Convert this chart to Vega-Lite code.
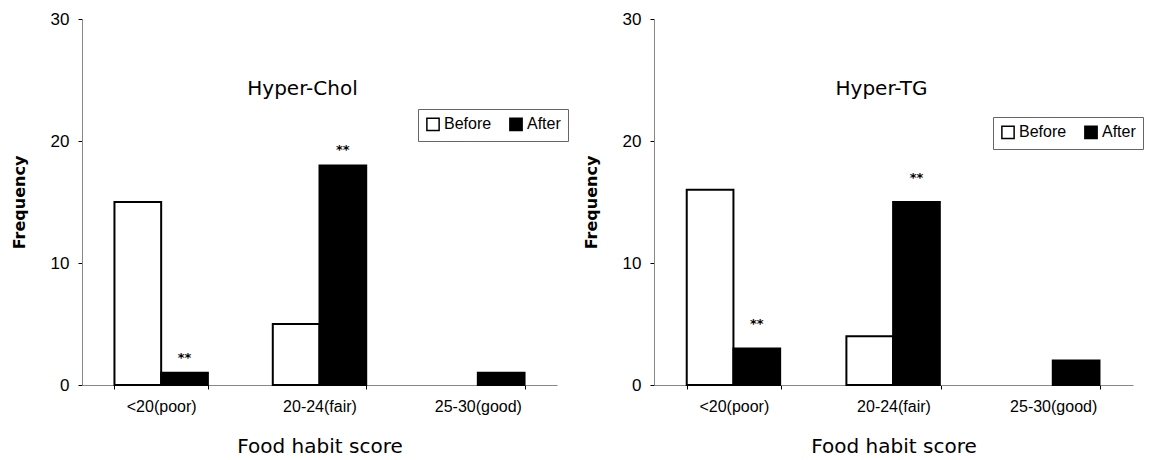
{
  "$schema": "https://vega.github.io/schema/vega-lite/v6.json",
  "padding": {"top": 10, "left": 11, "right": 0, "bottom": 0},
  "background": "white",
  "spacing": 14,
  "config": {
    "view": {"stroke": null},
    "font": "Liberation Sans",
    "axis": {
      "grid": false,
      "domainColor": "#888",
      "domainWidth": 1,
      "tickColor": "black",
      "tickWidth": 1,
      "labelColor": "black",
      "titleColor": "black",
      "labelFont": "Liberation Sans",
      "titleFont": "DejaVu Sans"
    },
    "axisX": {
      "labelAngle": 0,
      "labelFontSize": 16,
      "labelPadding": 9,
      "tickBand": "extent",
      "tickSize": 4,
      "titleFontSize": 20,
      "titleFontWeight": "normal",
      "titlePadding": 22
    },
    "axisY": {
      "labelFontSize": 17,
      "labelPadding": 9,
      "tickSize": 4,
      "titleFontSize": 16,
      "titleFontWeight": "bold",
      "titlePadding": 23
    },
    "legend": {
      "orient": "none",
      "direction": "horizontal",
      "title": null,
      "padding": 7,
      "strokeColor": "#666",
      "symbolType": "square",
      "symbolSize": 150,
      "symbolStrokeColor": "black",
      "symbolStrokeWidth": 1.5,
      "labelFont": "Liberation Sans",
      "labelFontSize": 16,
      "labelColor": "black",
      "columnPadding": 14,
      "labelOffset": 3
    }
  },
  "datasets": {
    "chol": [
      {"score": "<20(poor)", "period": "Before", "freq": 15, "sig": ""},
      {"score": "<20(poor)", "period": "After", "freq": 1, "sig": "**"},
      {"score": "20-24(fair)", "period": "Before", "freq": 5, "sig": ""},
      {"score": "20-24(fair)", "period": "After", "freq": 18, "sig": "**"},
      {"score": "25-30(good)", "period": "After", "freq": 1, "sig": ""}
    ],
    "tg": [
      {"score": "<20(poor)", "period": "Before", "freq": 16, "sig": ""},
      {"score": "<20(poor)", "period": "After", "freq": 3, "sig": "**"},
      {"score": "20-24(fair)", "period": "Before", "freq": 4, "sig": ""},
      {"score": "20-24(fair)", "period": "After", "freq": 15, "sig": "**"},
      {"score": "25-30(good)", "period": "After", "freq": 2, "sig": ""}
    ],
    "titles": [
      {"panel": "chol", "label": "Hyper-Chol"},
      {"panel": "tg", "label": "Hyper-TG"}
    ]
  },
  "resolve": {"scale": {"fill": "independent"}, "legend": {"fill": "independent"}},
  "hconcat": [
    {
      "width": 475,
      "height": 366,
      "layer": [
        {
          "data": {"name": "chol"},
          "mark": {"type": "bar", "stroke": "black", "strokeWidth": 2},
          "encoding": {
            "x": {"field": "score", "type": "nominal", "sort": ["<20(poor)", "20-24(fair)", "25-30(good)"],
                  "scale": {"paddingInner": 0.41, "paddingOuter": 0.205},
                  "axis": {"title": "Food habit score"}},
            "xOffset": {"field": "period", "type": "nominal", "sort": ["Before", "After"], "scale": {"paddingInner": 0, "paddingOuter": 0}},
            "y": {"field": "freq", "type": "quantitative", "scale": {"domain": [0, 30], "nice": false},
                  "axis": {"title": "Frequency", "values": [0, 10, 20, 30]}},
            "fill": {"field": "period", "type": "nominal",
                     "scale": {"domain": ["Before", "After"], "range": ["white", "black"]},
                     "legend": {"legendX": 336, "legendY": 90}}
          }
        },
        {
          "data": {"name": "chol"},
          "mark": {"type": "text", "baseline": "middle", "dy": -15, "fontSize": 13, "fontWeight": "bold", "font": "DejaVu Sans"},
          "encoding": {
            "x": {"field": "score", "type": "nominal", "sort": ["<20(poor)", "20-24(fair)", "25-30(good)"]},
            "xOffset": {"field": "period", "type": "nominal", "sort": ["Before", "After"]},
            "y": {"field": "freq", "type": "quantitative"},
            "text": {"field": "sig"}
          }
        },
        {
          "data": {"name": "titles"},
          "transform": [{"filter": "datum.panel === 'chol'"}],
          "mark": {"type": "text", "fontSize": 20, "font": "DejaVu Sans", "dx": -17, "baseline": "middle"},
          "encoding": {
            "x": {"datum": "20-24(fair)"},
            "y": {"datum": 24.3, "type": "quantitative"},
            "text": {"field": "label"}
          }
        }
      ]
    },
    {
      "width": 479,
      "height": 366,
      "layer": [
        {
          "data": {"name": "tg"},
          "mark": {"type": "bar", "stroke": "black", "strokeWidth": 2},
          "encoding": {
            "x": {"field": "score", "type": "nominal", "sort": ["<20(poor)", "20-24(fair)", "25-30(good)"],
                  "scale": {"paddingInner": 0.41, "paddingOuter": 0.205},
                  "axis": {"title": "Food habit score"}},
            "xOffset": {"field": "period", "type": "nominal", "sort": ["Before", "After"], "scale": {"paddingInner": 0, "paddingOuter": 0}},
            "y": {"field": "freq", "type": "quantitative", "scale": {"domain": [0, 30], "nice": false},
                  "axis": {"title": "Frequency", "values": [0, 10, 20, 30]}},
            "fill": {"field": "period", "type": "nominal",
                     "scale": {"domain": ["Before", "After"], "range": ["white", "black"]},
                     "legend": {"legendX": 339, "legendY": 98}}
          }
        },
        {
          "data": {"name": "tg"},
          "mark": {"type": "text", "baseline": "middle", "dy": -24, "fontSize": 13, "fontWeight": "bold", "font": "DejaVu Sans"},
          "encoding": {
            "x": {"field": "score", "type": "nominal", "sort": ["<20(poor)", "20-24(fair)", "25-30(good)"]},
            "xOffset": {"field": "period", "type": "nominal", "sort": ["Before", "After"]},
            "y": {"field": "freq", "type": "quantitative"},
            "text": {"field": "sig"}
          }
        },
        {
          "data": {"name": "titles"},
          "transform": [{"filter": "datum.panel === 'tg'"}],
          "mark": {"type": "text", "fontSize": 20, "font": "DejaVu Sans", "dx": -12, "baseline": "middle"},
          "encoding": {
            "x": {"datum": "20-24(fair)"},
            "y": {"datum": 24.3, "type": "quantitative"},
            "text": {"field": "label"}
          }
        }
      ]
    }
  ]
}
